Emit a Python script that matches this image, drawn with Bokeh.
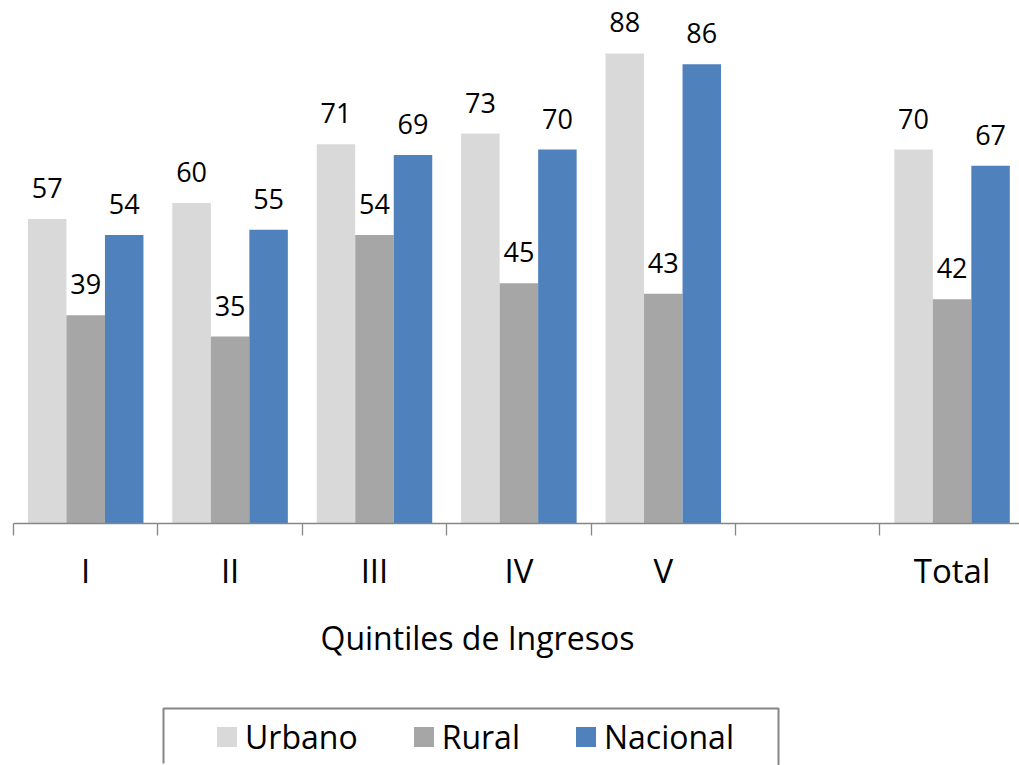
from bokeh.plotting import figure
from bokeh.models import (ColumnDataSource, FixedTicker, Range1d, Legend,
                          LegendItem, Title)
from bokeh.transform import dodge
from bokeh.core.properties import value
from bokeh.embed import file_html
from bokeh.resources import INLINE

# ---- data ----
categories = ["I", "II", "III", "IV", "V", "", "Total"]
groups = ["I", "II", "III", "IV", "V", "Total"]
urbano = [57, 60, 71, 73, 88, 70]
rural = [39, 35, 54, 45, 43, 42]
nacional = [54, 55, 69, 70, 86, 67]
series_names = ["Urbano", "Rural", "Nacional"]
series_colors = ["#D9D9D9", "#A6A6A6", "#4F81BD"]
x_title = "Quintiles de Ingresos"

FONT = "Open Sans"
AXIS_GRAY = "#868686"
W = 1019

pos = [categories.index(g) + 1 for g in groups]
src = ColumnDataSource(dict(
    pos=pos,
    Urbano=urbano, Rural=rural, Nacional=nacional,
    lab_Urbano=[str(v) for v in urbano],
    lab_Rural=[str(v) for v in rural],
    lab_Nacional=[str(v) for v in nacional],
))

p = figure(width=W, height=700,
           x_range=Range1d(0.5, 7.467), y_range=Range1d(0, 97.92),
           output_backend="svg", toolbar_location=None,
           y_axis_location=None,
           min_border_left=13, min_border_right=0, min_border_top=0,
           min_border_bottom=177)
p.outline_line_color = None
p.xgrid.visible = False
p.ygrid.visible = False

BW = 0.8 / 3
offsets = [-BW, 0.0, BW]
renderers = []
for name, col, off in zip(series_names, series_colors, offsets):
    r = p.vbar(x=dodge("pos", off), top=name, width=BW, source=src,
               fill_color=col, line_color=None)
    renderers.append(r)
    p.text(x=dodge("pos", off), y=name, text="lab_" + name, source=src,
           text_align="center", text_baseline="alphabetic", y_offset=-31,
           text_font=value(FONT), text_font_size="27px", text_color="black")

ax = p.xaxis[0]
ax.ticker = FixedTicker(ticks=list(range(1, len(categories) + 1)),
                        minor_ticks=[i + 0.5 for i in range(len(categories) + 1)])
ax.major_label_overrides = {i + 1: (c if c else " ") for i, c in enumerate(categories)}
ax.major_tick_line_color = None
ax.major_tick_out = 12
ax.major_tick_in = 0
ax.minor_tick_out = 12
ax.minor_tick_in = 0
ax.minor_tick_line_color = AXIS_GRAY
ax.minor_tick_line_width = 1.3
ax.axis_line_color = AXIS_GRAY
ax.axis_line_width = 1.3
ax.major_label_text_font = FONT
ax.major_label_text_font_size = "33px"
ax.major_label_text_color = "black"
ax.major_label_standoff = 12

# axis title, placed left of centre as in the original chart area
p.add_layout(Title(text=x_title, align="left", offset=307, standoff=36,
                   text_font=FONT, text_font_size="32px",
                   text_font_style="normal", text_color="black"), "below")

# ---- legend panel (box open at the bottom edge) ----
BOX_L, BOX_R = 163, 778
p2 = figure(width=W, height=65, x_range=Range1d(0, 1), y_range=Range1d(0, 1),
            output_backend="svg", toolbar_location=None,
            x_axis_location=None, y_axis_location=None,
            min_border_left=BOX_L, min_border_right=W - BOX_R,
            min_border_top=8, min_border_bottom=0)
p2.xgrid.visible = False
p2.ygrid.visible = False
p2.outline_line_color = AXIS_GRAY
p2.outline_line_width = 2
box_w, box_h = BOX_R - BOX_L, 65 - 8
p2.outline_line_dash = f"{box_w + box_h} {box_w}"

nan = float("nan")
leg_renderers = [p2.vbar(x=[nan], top=[nan], width=0.1, fill_color=c, line_color=None)
                 for c in series_colors]
legend = Legend(
    items=[LegendItem(label=n, renderers=[r]) for n, r in zip(series_names, leg_renderers)],
    orientation="horizontal", location=(51, 7),
    glyph_width=25, glyph_height=25, label_standoff=6, spacing=53, padding=0,
    border_line_alpha=0, background_fill_alpha=0,
    label_text_font=FONT, label_text_font_size="32px", label_text_color="black")
p2.add_layout(legend, "center")

open("out.html", "w").write(file_html([p, p2], INLINE))
